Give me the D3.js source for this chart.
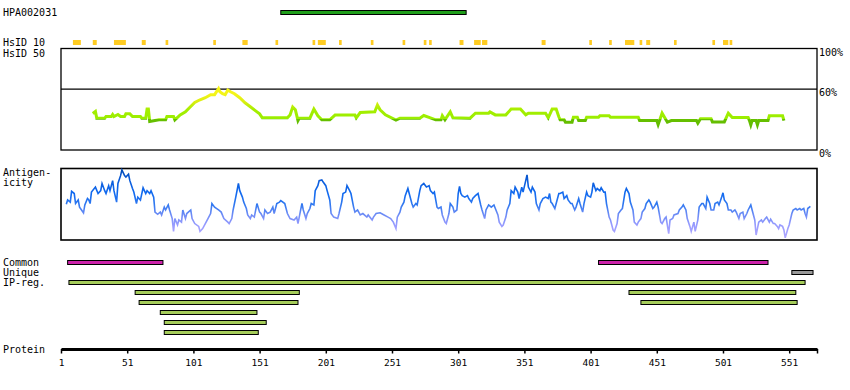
<!DOCTYPE html>
<html><head><meta charset="utf-8">
<script src="https://cdn.jsdelivr.net/npm/d3@7"></script>
<style>body{margin:0;background:#fff}svg{display:block}</style>
</head><body>
<script>
// ---------- data ----------
const proteinLength = 572;
const axisTicks = [1,51,101,151,201,251,301,351,401,451,501,551];
const antibodyName = "HPA002031";
const antigenRegion = [167, 307];
const hsid10 = [[10,16],[25,28],[41,50],[62,65],[80,82],[116,118],[138,142],[163,165],[191,193],[195,201],[211,213],[235,237],[259,261],[275,277],[279,281],[302,305],[313,318],[319,323],[364,367],[400,402],[415,417],[427,434],[438,440],[443,446],[464,466],[493,495],[501,505],[506,508]];
const hsid50 = [];
const simTicks = [100, 60, 0];
const similarity = [[25,36],[27,38],[28,31.4],[34,31.4],[35,33],[39,33],[40,35],[41,33],[44,35],[46,33],[49,33],[50,35.6],[53,35.6],[55,33],[61,33],[62,31.4],[65,31.4],[66,40.3],[67,40.3],[68,28],[72,29],[75,29.7],[80,29.7],[81,33],[86,33],[87,29.7],[91,34.6],[95,37.6],[98,41.6],[102,46.8],[106,49.5],[110,51.5],[114,54.5],[117,54.5],[120,60.4],[121,57.4],[123,55.4],[125,54.5],[127,59],[129,57.4],[132,55.4],[136,51.5],[140,46.5],[144,42.6],[148,38.6],[151,35.6],[153,31.7],[172,31.7],[174,34.6],[176,42.3],[178,39.6],[180,29],[181,31.4],[189,31.4],[192,40.3],[195,33.7],[198,29.7],[204,29.7],[208,34.4],[223,34.4],[224,31.7],[227,36.9],[238,37.6],[240,44.3],[242,39.6],[246,34.6],[254,29.4],[257,31.4],[272,31.4],[275,34],[280,31.7],[284,29.7],[288,29.7],[289,33.7],[291,29.7],[295,37.6],[297,31.7],[310,31.4],[314,36.3],[324,36.3],[325,37.6],[329,34.6],[337,34.6],[341,40.3],[348,40.3],[352,34.6],[354,36.3],[367,36.3],[369,31.7],[372,40.3],[375,40.3],[377,32.7],[378,29.7],[381,29.7],[382,27.4],[387,27.4],[388,32.3],[391,32.3],[392,29],[397,29],[398,32.3],[407,32.3],[408,33.7],[415,33.7],[416,32.3],[437,32.3],[438,29],[451,29],[452,25],[455,36.3],[459,27.4],[462,29],[481,29],[482,26.4],[484,30.9],[492,30.9],[493,27.7],[502,27.7],[505,36.3],[508,32],[520,32],[521,29],[522,24.8],[523,29],[526,29],[527,24.8],[528,29],[535,29],[536,33.7],[546,33.7],[547,29]];
const antigenicity = [[5,50],[6,56],[8,53],[9,68],[11,65],[12,51],[14,56],[15,46],[18,38],[19,49],[21,58],[22,56],[23,51],[24,67],[27,74],[29,65],[31,69],[32,79],[34,69],[35,65],[37,76],[38,69],[40,83],[41,69],[43,53],[44,79],[46,90],[47,98],[49,90],[50,88],[52,92],[53,83],[55,72],[56,67],[58,51],[59,60],[61,56],[63,73],[65,65],[66,69],[68,65],[69,69],[71,60],[72,39],[74,36],[76,39],[77,35],[79,46],[80,42],[82,49],[83,42],[85,30],[86,12],[87,30],[89,21],[90,28],[92,25],[93,42],[95,30],[96,37],[99,42],[100,30],[102,23],[105,19],[106,12],[108,16],[110,23],[112,30],[114,37],[115,51],[117,46],[120,42],[122,39],[124,30],[127,25],[128,23],[130,30],[131,42],[133,60],[135,79],[136,69],[138,60],[139,53],[141,44],[142,35],[144,30],[145,35],[147,32],[149,51],[151,39],[152,37],[154,30],[155,42],[157,37],[159,39],[161,46],[162,37],[164,51],[166,53],[167,55],[170,51],[172,37],[174,30],[177,28],[179,32],[180,23],[182,42],[183,51],[184,42],[186,30],[187,37],[189,44],[190,51],[192,49],[193,69],[195,76],[196,83],[198,84],[199,81],[201,76],[202,69],[204,56],[205,37],[207,32],[210,30],[211,37],[213,53],[214,65],[216,67],[217,76],[219,69],[220,65],[222,46],[223,39],[225,42],[227,35],[229,37],[232,32],[233,35],[236,28],[237,32],[239,37],[242,38],[245,35],[248,32],[250,30],[252,25],[254,16],[255,32],[257,39],[258,46],[260,53],[261,62],[263,72],[264,65],[266,51],[267,46],[269,51],[270,49],[272,69],[273,76],[275,79],[277,74],[279,76],[280,69],[282,65],[283,67],[285,46],[286,44],[288,46],[289,35],[291,25],[292,23],[294,37],[295,51],[297,46],[298,39],[300,42],[301,65],[302,75],[303,65],[304,62],[306,60],[308,62],[309,58],[311,53],[312,58],[314,62],[316,65],[318,49],[319,42],[321,30],[322,42],[324,49],[326,46],[328,49],[331,35],[332,25],[334,19],[335,21],[337,32],[338,42],[340,51],[341,69],[343,65],[344,74],[346,67],[347,58],[349,74],[350,67],[352,83],[353,91],[354,74],[356,67],[357,74],[359,67],[360,51],[362,42],[363,51],[365,58],[367,60],[369,58],[370,65],[371,53],[372,51],[374,44],[377,65],[378,65],[380,67],[381,58],[383,62],[384,56],[386,51],[387,51],[389,42],[390,46],[392,58],[393,51],[395,39],[396,51],[398,67],[399,62],[401,60],[402,67],[403,80],[405,69],[406,72],[408,69],[409,73],[411,67],[412,67],[413,51],[415,32],[416,28],[418,14],[419,12],[421,23],[422,37],[424,42],[425,44],[427,67],[428,72],[430,65],[431,53],[433,42],[434,25],[436,21],[437,25],[439,30],[440,39],[442,44],[443,51],[445,56],[446,53],[448,44],[449,46],[451,53],[452,46],[454,25],[455,23],[457,30],[458,32],[460,9],[461,28],[463,30],[464,35],[467,37],[468,42],[470,46],[471,49],[473,42],[474,30],[476,19],[477,12],[479,25],[480,12],[482,28],[483,46],[485,51],[486,51],[488,44],[489,60],[491,51],[492,42],[494,42],[495,51],[497,53],[498,49],[500,60],[501,66],[502,56],[504,51],[505,42],[507,42],[508,39],[510,42],[511,39],[513,30],[514,37],[516,39],[517,30],[519,37],[520,42],[522,49],[523,42],[525,28],[526,7],[527,16],[528,25],[530,28],[531,25],[533,30],[534,32],[536,25],[537,29],[539,23],[540,23],[542,19],[543,16],[544,21],[546,19],[547,14],[548,3],[550,16],[551,21],[553,37],[554,42],[556,44],[557,42],[559,44],[560,42],[562,44],[563,37],[564,32],[565,44],[567,47]];
const commonRegions = [[6,78],[407,535]];
const uniqueRegions = [[553,569]];
const ipRegRows = [[[7,563]], [[57,181],[430,556]], [[60,180],[439,557]], [[76,149]], [[79,156]], [[79,150]]];

// ---------- drawing ----------
const W = 850, H = 390;
const svg = d3.select("body").append("svg").attr("width", W).attr("height", H)
  .style("font-family", "'DejaVu Sans Mono', monospace").style("font-size", "10px");

const x = d3.scaleLinear().domain([1, proteinLength]).range([61, 817]);
const ySim = d3.scaleLinear().domain([0, 100]).range([150, 48.5]);
const yAnt = d3.scaleLinear().domain([0, 100]).range([240, 168.5]);

function label(t, lx, ly) {
  svg.append("text").attr("x", lx).attr("y", ly).attr("fill", "#000").text(t);
}

// antibody bar
label(antibodyName, 3, 16);
svg.append("rect").attr("x", x(antigenRegion[0])).attr("y", 10.5)
  .attr("width", x(antigenRegion[1]) - x(antigenRegion[0])).attr("height", 4)
  .attr("fill", "#1f9e1a").attr("stroke", "#000").attr("stroke-width", 1);

// HsID rows
label("HsID 10", 3, 46);
label("HsID 50", 3, 56.5);
svg.append("g").selectAll("rect").data(hsid10).join("rect")
  .attr("x", d => x(d[0])).attr("y", 40)
  .attr("width", d => Math.max(1.5, x(d[1]) - x(d[0]))).attr("height", 5)
  .attr("fill", "#ffcc22");
svg.append("g").selectAll("rect").data(hsid50).join("rect")
  .attr("x", d => x(d[0])).attr("y", 50)
  .attr("width", d => x(d[1]) - x(d[0])).attr("height", 5).attr("fill", "#ffcc22");

// gradients
const defs = svg.append("defs");
const simGrad = defs.append("linearGradient").attr("id", "simGrad")
  .attr("gradientUnits", "userSpaceOnUse")
  .attr("x1", 0).attr("x2", 0).attr("y1", ySim(0)).attr("y2", ySim(100));
[[0, "#55aa00"], [30.2, "#66c000"], [30.4, "#99ee00"], [40, "#a6ee00"], [47, "#d8ee11"], [55, "#f4f418"], [100, "#ffff00"]]
  .forEach(s => simGrad.append("stop").attr("offset", s[0] + "%").attr("stop-color", s[1]));
const antGrad = defs.append("linearGradient").attr("id", "antGrad")
  .attr("gradientUnits", "userSpaceOnUse")
  .attr("x1", 0).attr("x2", 0).attr("y1", yAnt(0)).attr("y2", yAnt(100));
[[0, "#b4aaff"], [20, "#9a9cff"], [35, "#6f8cf6"], [50, "#2f78f0"], [65, "#116af0"], [85, "#0a5ad8"], [100, "#0048b0"]]
  .forEach(s => antGrad.append("stop").attr("offset", s[0] + "%").attr("stop-color", s[1]));

// similarity panel
const sim = svg.append("g");
sim.append("rect").attr("x", x(1)).attr("y", ySim(100)).attr("width", x(proteinLength) - x(1))
  .attr("height", ySim(0) - ySim(100)).attr("fill", "none").attr("stroke", "#000").attr("stroke-width", 1.3);
sim.append("line").attr("x1", x(1)).attr("x2", x(proteinLength)).attr("y1", ySim(60)).attr("y2", ySim(60))
  .attr("stroke", "#000").attr("stroke-width", 1.3);
simTicks.forEach(t => label(t + "%", 819, ySim(t) + 7));
sim.append("path").datum(similarity)
  .attr("d", d3.line().x(d => x(d[0])).y(d => ySim(d[1])))
  .attr("fill", "none").attr("stroke", "url(#simGrad)").attr("stroke-width", 3)
  .attr("stroke-linejoin", "miter");

// antigenicity panel
label("Antigen-", 3, 176);
label("icity", 3, 186);
const ant = svg.append("g");
ant.append("rect").attr("x", x(1)).attr("y", yAnt(100)).attr("width", x(proteinLength) - x(1))
  .attr("height", yAnt(0) - yAnt(100)).attr("fill", "none").attr("stroke", "#000").attr("stroke-width", 1.6);
ant.append("path").datum(antigenicity)
  .attr("d", d3.line().x(d => x(d[0])).y(d => yAnt(d[1])))
  .attr("fill", "none").attr("stroke", "url(#antGrad)").attr("stroke-width", 1.6);

// region bars
label("Common", 3, 266);
label("Unique", 3, 276);
label("IP-reg.", 3, 286);
function bars(data, y0, color) {
  svg.append("g").selectAll("rect").data(data).join("rect")
    .attr("x", d => x(d[0])).attr("y", y0 + 0.5)
    .attr("width", d => x(d[1]) - x(d[0])).attr("height", 4)
    .attr("fill", color).attr("stroke", "#000").attr("stroke-width", 1);
}
bars(commonRegions, 260, "#cc22aa");
bars(uniqueRegions, 270, "#999999");
ipRegRows.forEach((row, i) => bars(row, 280 + i * 10, "#a5cc5a"));

// protein axis
label("Protein", 3, 352.5);
const axis = d3.axisBottom(x)
  .tickValues(axisTicks.concat([proteinLength]))
  .tickFormat(d => d === proteinLength ? "" : d)
  .tickSize(4.5).tickSizeOuter(0).tickPadding(5.5);
const ax = svg.append("g").attr("transform", "translate(0,349)").call(axis);
ax.select(".domain").attr("stroke-width", 3).attr("stroke", "#000");
ax.selectAll(".tick line").attr("stroke-width", 1.5).attr("stroke", "#000");
ax.selectAll(".tick text").attr("font-family", "'DejaVu Sans Mono', monospace")
  .attr("font-size", "9.5px").attr("fill", "#000");
</script>
</body></html>
